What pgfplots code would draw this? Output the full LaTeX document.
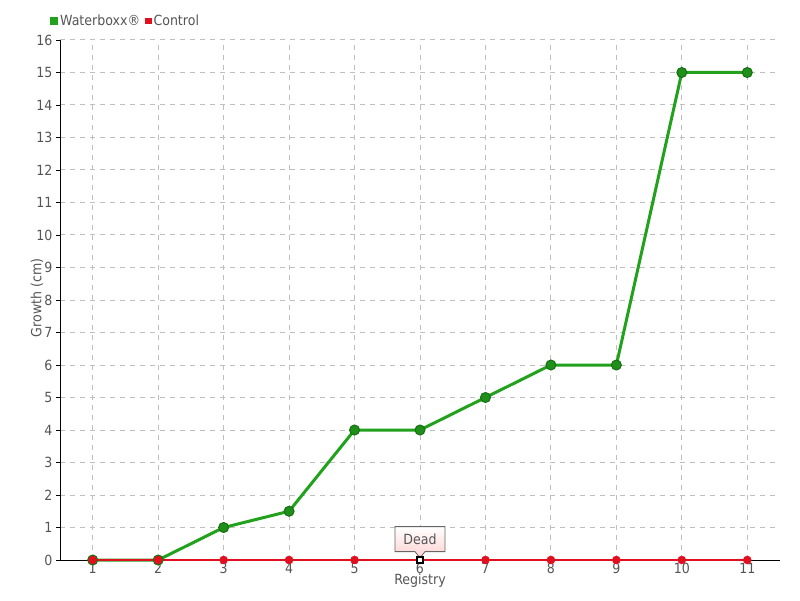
\documentclass[border=0pt]{standalone}
\usepackage{pgfplots}
\pgfplotsset{compat=1.18}
\usepackage{fontspec}
\setmainfont{DejaVu Sans Condensed}
\usetikzlibrary{shapes.callouts}
\definecolor{txt}{HTML}{555555}
\definecolor{gline}{HTML}{22A11C}
\definecolor{gfill}{HTML}{1F8F1A}
\definecolor{gedge}{HTML}{176E14}
\definecolor{rline}{HTML}{E2101E}
\definecolor{grid}{HTML}{EBEBEB}
\newcommand{\fs}{\fontsize{14}{16}\selectfont}
\begin{document}
\begin{tikzpicture}
\begin{axis}[
  at={(0,0)}, anchor=origin,
  scale only axis, width=720pt, height=520pt,
  xmin=0.5, xmax=11.5, ymin=0, ymax=16,
  xtick={1,...,11}, ytick={0,...,16},
  axis lines=left, axis line style={black, line width=0.8pt, -},
  /pgf/number format/assume math mode=true,
  tick label style={font=\fs, text=txt},
  x tick label style={yshift=4pt},
  x tick style={draw=none},
  y tick style={black, line width=0.8pt},
  tick align=outside, major tick length=4pt,
  grid=major, major grid style={grid, dash pattern=on 5pt off 5pt, line width=1pt},
  xlabel={Registry}, ylabel={Growth (cm)},
  every axis x label/.style={at={(axis description cs:0.5,0)}, anchor=center, yshift=-21pt, font=\fs, text=txt},
  every axis y label/.style={at={([xshift=-23pt]axis description cs:0,0.504)}, rotate=90, anchor=center, font=\fs, text=txt},
  clip=false,
  legend columns=2,
  legend style={at={(0,1)}, anchor=south west, xshift=-10pt, yshift=11pt, draw=none, fill=none, font=\fs, text=txt,
    /tikz/every even column/.append style={column sep=3pt}, inner sep=0pt},
  legend image code/.code={\fill[#1] (0pt,-2.5pt) rectangle (5pt,2.5pt);},
]
\addplot[gline, line width=3pt, mark=*, mark size=5pt, mark options={fill=gfill, draw=gedge, line width=1pt}]
  coordinates {(1,0) (2,0) (3,1) (4,1.5) (5,4) (6,4) (7,5) (8,6) (9,6) (10,15) (11,15)};
\addplot[rline, line width=1.4pt, mark=*, mark size=4pt, mark options={fill=rline, draw=rline, line width=0.5pt}]
  coordinates {(1,0) (2,0) (3,0) (4,0) (5,0) (6,0) (7,0) (8,0) (9,0) (10,0) (11,0)};
\addplot[only marks, mark=square*, mark size=3pt, mark options={fill=white, draw=black, line width=1.2pt}, forget plot]
  coordinates {(6,0)};
\legend{Waterboxx®, Control}
\node[rectangle callout, draw=black!60, line width=0.8pt, top color=white, bottom color=red!18,
  font=\fs, text=txt, minimum width=50pt, minimum height=25pt, inner sep=2pt,
  anchor=south, callout absolute pointer={([yshift=2pt]axis cs:6,0)}, callout pointer width=10pt] at ([yshift=8pt]axis cs:6,0) {Dead};
\end{axis}
\path[use as bounding box] (-60pt,-40pt) rectangle (740pt,560pt);
\end{tikzpicture}
\end{document}
